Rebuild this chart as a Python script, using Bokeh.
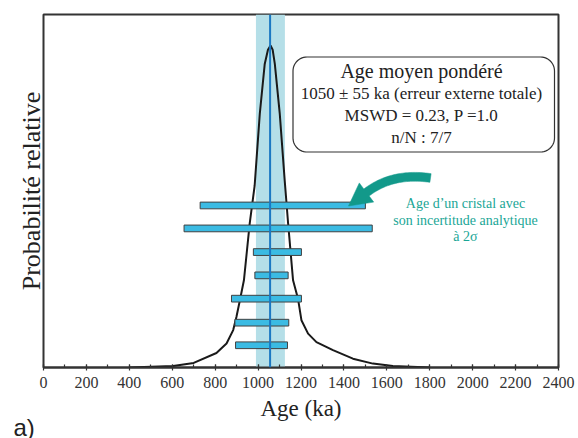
import numpy as np
from bokeh.plotting import figure
from bokeh.models import Range1d, Label, Span, SingleIntervalTicker, Title
from bokeh.embed import file_html
from bokeh.resources import INLINE

# ---- data ----
age_curve = [400, 604, 700, 806, 853, 884, 899, 915, 934, 961, 984, 1008, 1031,
             1046, 1058, 1068, 1078, 1101, 1124, 1140, 1163, 1186, 1202, 1233,
             1272, 1349, 1442, 1535, 1628, 1800]
prob_curve = [0.0, 0.004, 0.013, 0.041, 0.068, 0.106, 0.143, 0.190, 0.247, 0.408,
              0.515, 0.719, 0.860, 0.900, 0.912, 0.900, 0.860, 0.719, 0.530, 0.408,
              0.247, 0.195, 0.134, 0.096, 0.072, 0.049, 0.025, 0.011, 0.004, 0.0]
crystal_lo = [730, 655, 978, 985, 876, 892, 895]
crystal_hi = [1500, 1532, 1202, 1140, 1202, 1143, 1137]
crystal_rank = [0.459, 0.394, 0.327, 0.261, 0.195, 0.127, 0.063]
mean_age = 1056
band_lo, band_hi = 990, 1125
x_ticks = list(range(0, 2401, 200))

box_lines = ["Age moyen pondéré", "1050 ± 55 ka (erreur externe totale)",
             "MSWD = 0.23, P =1.0", "n/N : 7/7"]
note_lines = ["Age d’un cristal avec", "son incertitude analytique", "à 2σ"]

W, H = 576, 438
FL, FR, FT, FB = 43, 18, 14, 71
SERIF = "Liberation Serif"


def X(px):  # picture pixel -> data x
    return (px - FL) / (W - FL - FR) * 2400


def Y(py):  # picture pixel -> data y
    return (H - FB - py) / (H - FB - FT)


p = figure(width=W, height=H, output_backend="svg", toolbar_location=None,
           x_range=Range1d(0, 2400), y_range=Range1d(0, 1),
           min_border_left=FL, min_border_right=FR, min_border_top=FT,
           min_border_bottom=FB)
p.background_fill_color = "white"
p.border_fill_color = "white"
p.outline_line_color = "#333333"
p.outline_line_width = 2
p.grid.visible = False
p.yaxis.visible = False

ax = p.xaxis[0]
ax.ticker = SingleIntervalTicker(interval=200, num_minor_ticks=2)
ax.axis_line_color = "#333333"
ax.axis_line_width = 2
ax.major_tick_in = 3
ax.major_tick_out = 3
ax.major_tick_line_color = "#333333"
ax.major_tick_line_width = 1.2
ax.minor_tick_in = 3
ax.minor_tick_out = 0
ax.minor_tick_line_color = "#333333"
ax.minor_tick_line_width = 1.2
ax.major_label_text_font = SERIF
ax.major_label_text_font_size = "16px"
ax.major_label_text_color = "#333333"
ax.major_label_standoff = 6
ax.axis_label = "Age (ka)"
ax.axis_label_text_font = SERIF
ax.axis_label_text_font_size = "23px"
ax.axis_label_text_font_style = "normal"
ax.axis_label_text_color = "#222222"
ax.axis_label_standoff = 5

# y label as a title on the left side
p.add_layout(Title(text="Probabilité relative", align="center", standoff=-4,
                   text_font=SERIF, text_font_size="26px", text_font_style="normal",
                   text_color="#222222"), "left")
# panel letter below
p.add_layout(Title(text="a)", align="left", offset=-30, standoff=-34,
                   text_font="Liberation Sans", text_font_size="24px",
                   text_font_style="normal", text_color="#222222"), "below")

# band of weighted mean
p.quad(left=[band_lo], right=[band_hi], bottom=[0], top=[1],
       fill_color="#b5dfe8", line_color=None)

# probability curve
p.line(age_curve, prob_curve, line_color="#1a1a1a", line_width=2)

# crystal ages with uncertainty
p.hbar(y=crystal_rank, left=crystal_lo, right=crystal_hi, height=0.019,
       fill_color="#3bbbe3", line_color="#404040", line_width=1)

# mean line
p.add_layout(Span(location=mean_age, dimension="height",
                  line_color="#1b78c2", line_width=2))


def rounded_box(x0, y0, x1, y1, r, n=14):
    pts = []
    corners = [(x1 - r, y0 + r, -90, 0), (x1 - r, y1 - r, 0, 90),
               (x0 + r, y1 - r, 90, 180), (x0 + r, y0 + r, 180, 270)]
    for cx, cy, a0, a1 in corners:
        for a in np.linspace(np.radians(a0), np.radians(a1), n):
            pts.append((cx + r * np.cos(a), cy + r * np.sin(a)))
    return pts


bx = rounded_box(292.5, 56.5, 554, 151.5, 14)
p.patch([X(a) for a, b in bx], [Y(b) for a, b in bx],
        fill_color="white", line_color="#333333", line_width=1.2)

box_y = [70, 93, 115, 137]
box_size = ["20px", "17px", "17px", "17px"]
for t, yy, fs in zip(box_lines, box_y, box_size):
    p.add_layout(Label(x=X(421), y=Y(yy), text=t, text_align="center",
                       text_baseline="middle", text_font=SERIF,
                       text_font_size=fs, text_color="#222222"))

# teal note
for t, yy in zip(note_lines, [203, 220, 236]):
    p.add_layout(Label(x=X(465), y=Y(yy), text=t, text_align="center",
                       text_baseline="middle", text_font=SERIF,
                       text_font_size="14px", text_color="#1aa696"))

# curved arrow
tt = np.linspace(0, 1, 30)[:, None]
P0 = np.array([430.0, 177.5]); P1 = np.array([392.0, 172.0]); P2 = np.array([366.0, 192.0])
pts = (1 - tt) ** 2 * P0 + 2 * (1 - tt) * tt * P1 + tt ** 2 * P2
tan = 2 * (1 - tt) * (P1 - P0) + 2 * tt * (P2 - P1)
nrm = np.column_stack([-tan[:, 1], tan[:, 0]])
nrm /= np.linalg.norm(nrm, axis=1)[:, None]
half = 4.4
upper = pts + nrm * half
lower = pts - nrm * half
tip = np.array([348.0, 205.5])
d = (tip - P2) / np.linalg.norm(tip - P2)
nh = np.array([-d[1], d[0]])
poly = list(upper) + [P2 + nh * 12, tip, P2 - nh * 12] + list(lower[::-1])
p.patch([X(a) for a, b in poly], [Y(b) for a, b in poly],
        fill_color="#12998a", line_color="#12998a", line_width=0.5)

open("out.html", "w").write(file_html(p, INLINE))
